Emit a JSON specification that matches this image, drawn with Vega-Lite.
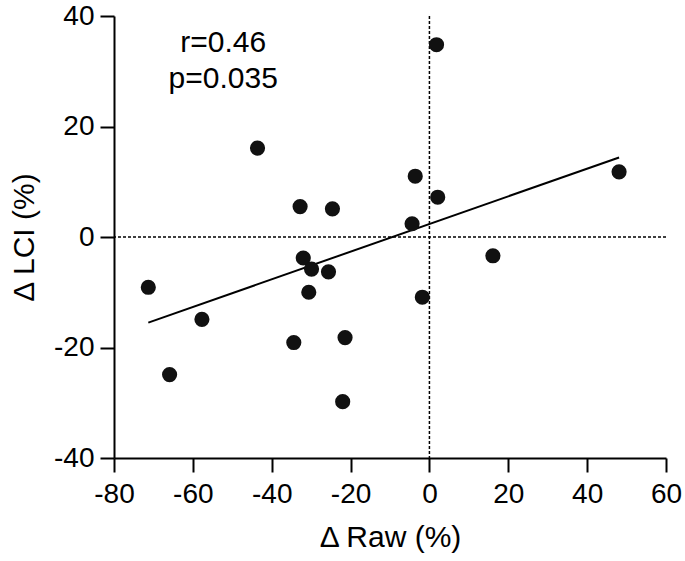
{
  "$schema": "https://vega.github.io/schema/vega-lite/v6.json",
  "width": 552,
  "height": 442,
  "autosize": {"type": "none"},
  "padding": {"left": 114, "top": 16, "right": 19, "bottom": 103},
  "background": "white",
  "config": {
    "view": {"stroke": null},
    "font": "Liberation Sans",
    "axis": {
      "grid": false,
      "labelFlush": false,
      "labelOverlap": false,
      "domainColor": "#000000",
      "domainWidth": 2,
      "tickColor": "#000000",
      "tickWidth": 2,
      "tickSize": 14,
      "labelColor": "#000000",
      "labelFont": "Liberation Sans",
      "labelFontSize": 28,
      "titleColor": "#000000",
      "titleFont": "Liberation Sans",
      "titleFontSize": 30,
      "titleFontWeight": "normal"
    }
  },
  "datasets": {
    "points": [
      {"raw": 1.8, "lci": 34.8},
      {"raw": -43.6, "lci": 16.1},
      {"raw": -32.8, "lci": 5.5},
      {"raw": -24.6, "lci": 5.1},
      {"raw": -3.6, "lci": 11.0},
      {"raw": 2.1, "lci": 7.2},
      {"raw": -4.4, "lci": 2.4},
      {"raw": 48.1, "lci": 11.8},
      {"raw": 16.1, "lci": -3.4},
      {"raw": -32.0, "lci": -3.8},
      {"raw": -29.9, "lci": -5.8},
      {"raw": -25.6, "lci": -6.3},
      {"raw": -30.6, "lci": -10.0},
      {"raw": -1.8, "lci": -10.9},
      {"raw": -71.3, "lci": -9.1},
      {"raw": -57.7, "lci": -14.9},
      {"raw": -34.4, "lci": -19.1},
      {"raw": -21.4, "lci": -18.2},
      {"raw": -65.9, "lci": -24.9},
      {"raw": -22.0, "lci": -29.8}
    ],
    "fit": [
      {"raw": -71.3, "lci": -15.5},
      {"raw": 48.1, "lci": 14.4}
    ],
    "vref": [{"raw": 0}],
    "href": [{"lci": 0}],
    "notes": [
      {"raw": -52.3, "lci": 33.4, "label": "r=0.46"},
      {"raw": -52.3, "lci": 27.0, "label": "p=0.035"}
    ]
  },
  "layer": [
    {
      "data": {"name": "vref"},
      "mark": {"type": "rule", "color": "#000000", "strokeWidth": 1.5, "strokeDash": [3, 2]},
      "encoding": {
        "x": {"field": "raw", "type": "quantitative", "scale": {"domain": [-80, 60], "nice": false, "zero": false},
          "axis": {"values": [-80, -60, -40, -20, 0, 20, 40, 60], "labelExpr": "'' + datum.value", "title": "Δ Raw (%)", "labelPadding": 8, "titlePadding": 14}}
      }
    },
    {
      "data": {"name": "href"},
      "mark": {"type": "rule", "color": "#000000", "strokeWidth": 1.5, "strokeDash": [3, 2]},
      "encoding": {
        "y": {"field": "lci", "type": "quantitative", "scale": {"domain": [-40, 40], "nice": false, "zero": false},
          "axis": {"values": [-40, -20, 0, 20, 40], "labelExpr": "'' + datum.value", "title": "Δ LCI (%)", "labelPadding": 6, "titlePadding": 14}}
      }
    },
    {
      "data": {"name": "fit"},
      "mark": {"type": "line", "color": "#000000", "strokeWidth": 2},
      "encoding": {
        "x": {"field": "raw", "type": "quantitative"},
        "y": {"field": "lci", "type": "quantitative"}
      }
    },
    {
      "data": {"name": "points"},
      "mark": {"type": "point", "shape": "circle", "filled": true, "size": 230, "color": "#111111", "opacity": 1},
      "encoding": {
        "x": {"field": "raw", "type": "quantitative"},
        "y": {"field": "lci", "type": "quantitative"}
      }
    },
    {
      "data": {"name": "notes"},
      "mark": {"type": "text", "font": "Liberation Sans", "fontSize": 30, "align": "center", "baseline": "alphabetic", "color": "#000000"},
      "encoding": {
        "x": {"field": "raw", "type": "quantitative"},
        "y": {"field": "lci", "type": "quantitative"},
        "text": {"field": "label"}
      }
    }
  ]
}
